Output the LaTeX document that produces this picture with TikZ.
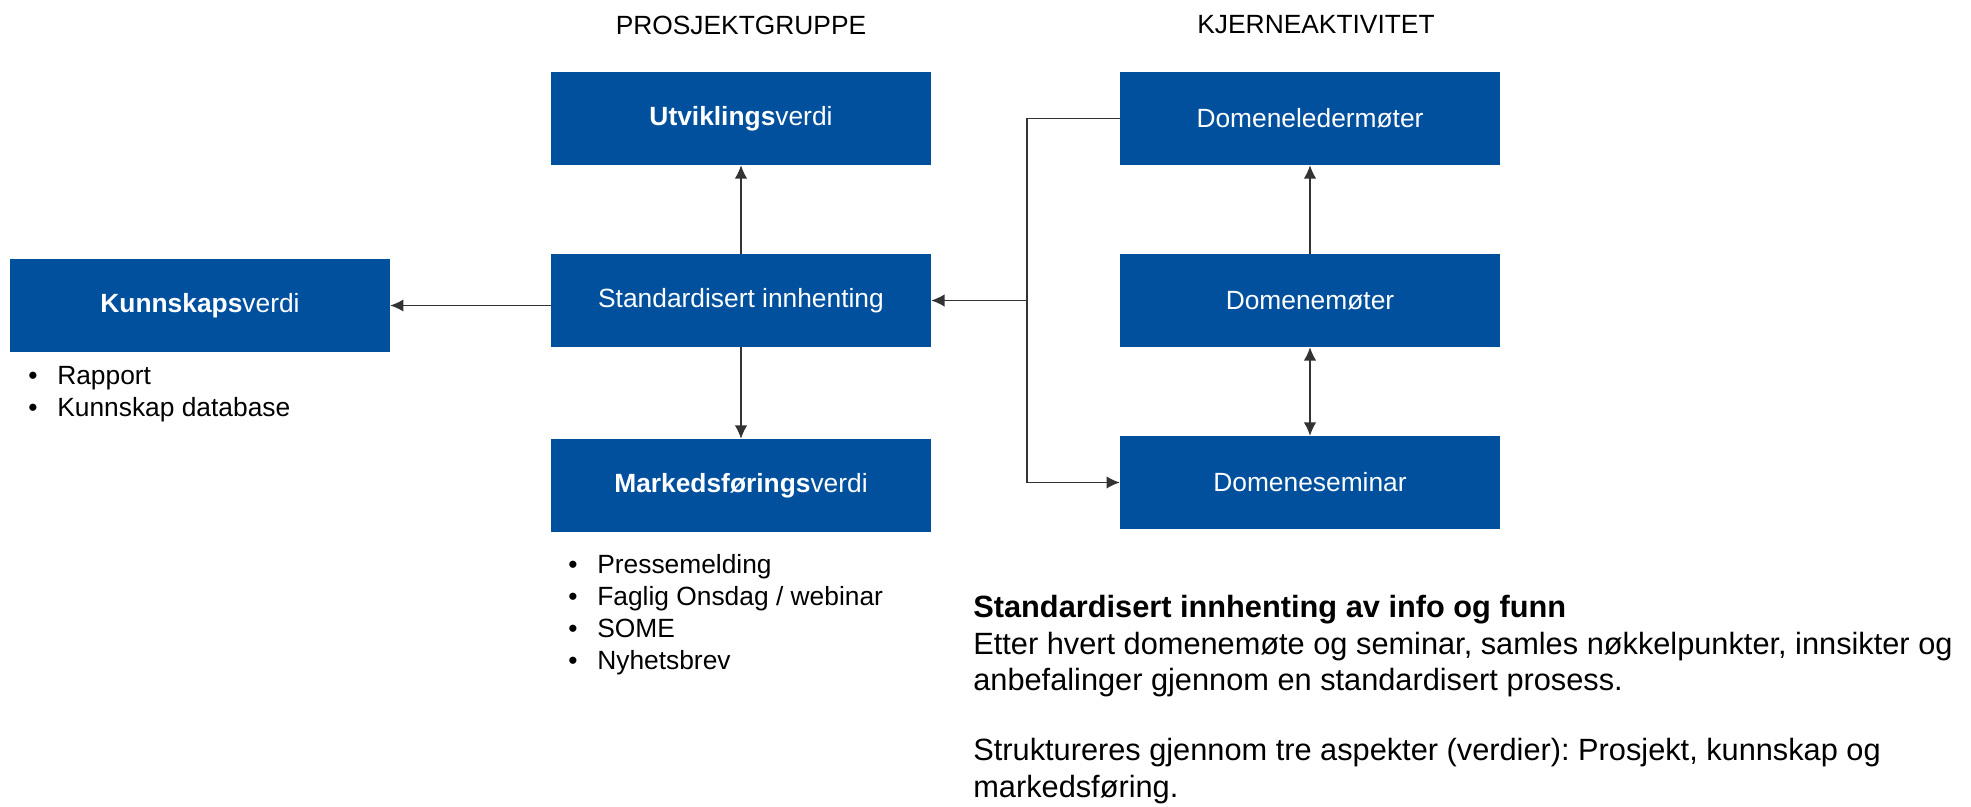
\documentclass[tikz,border=0pt]{standalone}
\usepackage{fontspec}
\setmainfont{Liberation Sans}
\usepackage{xcolor}
\usetikzlibrary{shapes,arrows,arrows.meta}
\definecolor{boxblue}{RGB}{0,80,158}
\tikzset{
  verdibox/.style={fill=boxblue, text=white, minimum width=7.6cm, minimum height=1.86cm, font=\fontsize{15}{18}\selectfont},
  liste/.style={anchor=north west, inner sep=0pt, align=left, font=\fontsize{15}{18.2}\selectfont},
  spiss/.tip={Latex[length=7.5pt,width=7pt]},
  pil/.style={-spiss, black!80, line width=0.6pt}
}
\newcommand{\punkt}{\makebox[1.1em][l]{\textbullet}}
\frenchspacing

\begin{document}
\begin{tikzpicture}[x=0.02cm, y=-0.02cm]
     \useasboundingbox (0,0) rectangle (1971,807);
     % overskrifter
     \node [font=\fontsize{15}{18}\selectfont] (prosjekt) at (741,25) {PROSJEKTGRUPPE};
     \node [font=\fontsize{15}{18}\selectfont] (kjerne) at (1316,25) {KJERNEAKTIVITET};
     % prosjektgruppe
     \node [verdibox] (utv) at (741,118.5) {\textbf{Utviklings}verdi};
     \node [verdibox] (std) at (741,300.5) {Standardisert innhenting};
     \node [verdibox] (mark) at (741,485.5) {\textbf{Markedsførings}verdi};
     \node [verdibox] (kunn) at (200,305.5) {\textbf{Kunnskaps}verdi};
     % kjerneaktivitet
     \node [verdibox] (led) at (1310,118.5) {Domeneledermøter};
     \node [verdibox] (dmo) at (1310,300.5) {Domenemøter};
     \node [verdibox] (sem) at (1310,482.5) {Domeneseminar};
     \coordinate (knekk) at (1027,300.5);
     % piler
     \draw [pil] (std) -- (utv);
     \draw [pil] (std) -- (mark);
     \draw [pil] (std.west |- kunn) -- (kunn.east);
     \draw [pil] (dmo) -- (led);
     \draw [pil, spiss-spiss] (dmo) -- (sem);
     \draw [pil] (led.west) -| (knekk) |- (sem.west);
     \draw [pil] (knekk) -- (std.east);
     % lister
     \node [liste] (kunnliste) at (28,366) {\punkt Rapport\\ \punkt Kunnskap database};
     \node [liste] (markliste) at (568,554) {\punkt Pressemelding\\ \punkt Faglig Onsdag / webinar\\ \punkt SOME\\ \punkt Nyhetsbrev};
     % forklaring
     \node [anchor=north west, inner sep=0pt, align=left, font=\fontsize{17.5}{20.8}\selectfont] (tekst) at (973,595)
       {\textbf{Standardisert innhenting av info og funn}\\
        Etter hvert domenemøte og seminar, samles nøkkelpunkter, innsikter og\\
        anbefalinger gjennom en standardisert prosess.\\[19pt]
        Struktureres gjennom tre aspekter (verdier): Prosjekt, kunnskap og\\
        markedsføring.};
 \end{tikzpicture}
\end{document}
